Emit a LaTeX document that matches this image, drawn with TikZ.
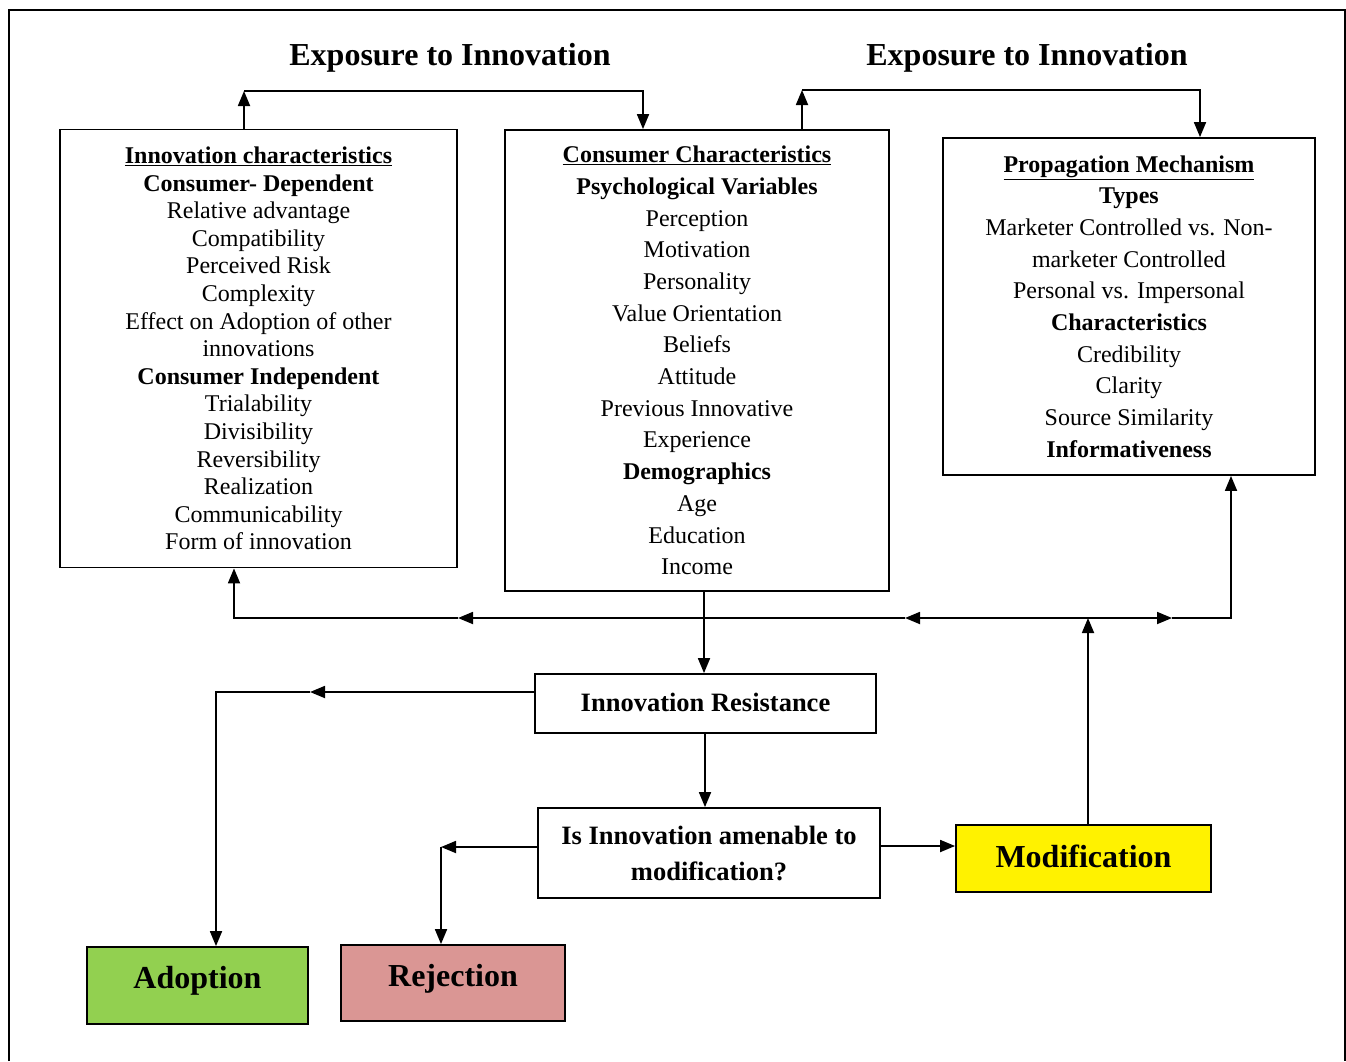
\documentclass[tikz,border=0pt]{standalone}
\usepackage{fontspec}
\setmainfont{Liberation Serif}
\usetikzlibrary{arrows.meta}
\definecolor{adoptgreen}{HTML}{92D050}
\definecolor{rejectpink}{HTML}{DA9694}
% lift a label inside its box without changing the box's size
\newcommand{\liftlabel}[2]{\raisebox{#1}[\height][\depth]{#2}}
\begin{document}
\begin{tikzpicture}[x=1pt,y=-1pt,
  box/.style={draw=black,line width=1.8pt,inner sep=0pt,align=center},
  body/.style={font=\fontsize{24}{27.6}\selectfont},
  bodywide/.style={font=\fontsize{24}{31.7}\selectfont},
  mid/.style={font=\fontsize{26.5}{36}\selectfont\bfseries},
  big/.style={font=\fontsize{32}{36}\selectfont\bfseries},
  heading/.style={font=\fontsize{32}{36}\selectfont\bfseries,inner sep=0pt},
  arr/.style={line width=1.8pt,-{Triangle[length=15pt,width=12pt]}}]
\useasboundingbox (0,0) rectangle (1346,1061);
% outer frame
\draw[line width=2pt] (9,1061) -- (9,10) -- (1345,10) -- (1345,1061);

% headings
\node[heading] (h1) at (450,58) {Exposure to Innovation};
\node[heading] (h2) at (1027,58) {Exposure to Innovation};

% main boxes
\node[box,body,minimum width=397pt,minimum height=438pt] (b1) at (258.5,348.5) {%
  \underline{\textbf{Innovation characteristics}}\\
  \textbf{Consumer- Dependent}\\
  Relative advantage\\ Compatibility\\ Perceived Risk\\ Complexity\\
  Effect on Adoption of other\\ innovations\\
  \textbf{Consumer Independent}\\
  Trialability\\ Divisibility\\ Reversibility\\ Realization\\
  Communicability\\ Form of innovation};
\node[box,bodywide,minimum width=384pt,minimum height=461pt] (b2) at (697,360.5) {%
  \underline{\textbf{Consumer Characteristics}}\\
  \textbf{Psychological Variables}\\
  Perception\\ Motivation\\ Personality\\ Value Orientation\\ Beliefs\\
  Attitude\\ Previous Innovative\\ Experience\\
  \textbf{Demographics}\\
  Age\\ Education\\ Income};
\node[box,bodywide,minimum width=372pt,minimum height=337pt] (b3) at (1129,306.5) {%
  \underline{\textbf{Propagation Mechanism}}\\
  \textbf{Types}\\
  Marketer Controlled vs. Non-\\ marketer Controlled\\
  Personal vs. Impersonal\\
  \textbf{Characteristics}\\
  Credibility\\ Clarity\\ Source Similarity\\
  \textbf{Informativeness}};

% decision chain
\node[box,mid,minimum width=341pt,minimum height=59pt] (res) at (705.5,703.5) {\liftlabel{1pt}{Innovation Resistance}};
\node[box,mid,minimum width=342pt,minimum height=90pt] (q) at (709,853) {Is Innovation amenable to\\ modification?};
\node[box,big,fill=yellow,minimum width=255pt,minimum height=67pt] (mod) at (1083.5,858.5) {\liftlabel{2pt}{Modification}};
\node[box,big,fill=adoptgreen,minimum width=221pt,minimum height=77pt] (adopt) at (197.5,985.5) {\liftlabel{5pt}{Adoption}};
\node[box,big,fill=rejectpink,minimum width=224pt,minimum height=76pt] (rej) at (453,983) {\liftlabel{4pt}{Rejection}};

% routing points
\coordinate (c1) at (244,91);
\coordinate (c2) at (643,91);
\coordinate (c3) at (802,90);
\coordinate (c4) at (1200,90);
\coordinate (j) at (1088,618);
\coordinate (mL) at (905,618);
\coordinate (mLL) at (458,618);
\coordinate (mB1) at (234,618);
\coordinate (mR) at (1172,618);
\coordinate (mB3) at (1231,618);
\coordinate (dn) at (704,618);
\coordinate (aL) at (310,692);
\coordinate (aD) at (216,692);
\coordinate (rd) at (705,0);
\coordinate (rL) at (441,847);
\coordinate (mw) at (0,846);

% exposure loops along the top
\draw[arr] (b1.north -| c1) -- (c1);
\draw[arr] (c1) -- (c2) -- (b2.north -| c2);
\draw[arr] (b2.north -| c3) -- (c3);
\draw[arr] (c3) -- (c4) -- (b3.north -| c4);

% feedback line
\draw[arr] (mod.north -| j) -- (j);
\draw[arr] (j) -- (mL);
\draw[arr] (mL) -- (mLL);
\draw[arr] (mLL) -- (mB1) -- (b1.south -| mB1);
\draw[arr] (j) -- (mR);
\draw[arr] (mR) -- (mB3) -- (b3.south -| mB3);

% outcomes
\draw[arr] (b2.south -| dn) -- (res.north -| dn);
\draw[arr] (res.west |- aL) -- (aL);
\draw[arr] (aL) -- (aD) -- (adopt.north -| aD);
\draw[arr] (res.south -| rd) -- (q.north -| rd);
\draw[arr] (q.west |- rL) -- (rL);
\draw[arr] (rL) -- (rej.north -| rL);
\draw[arr] (q.east |- mw) -- (mod.west |- mw);
\end{tikzpicture}
\end{document}
